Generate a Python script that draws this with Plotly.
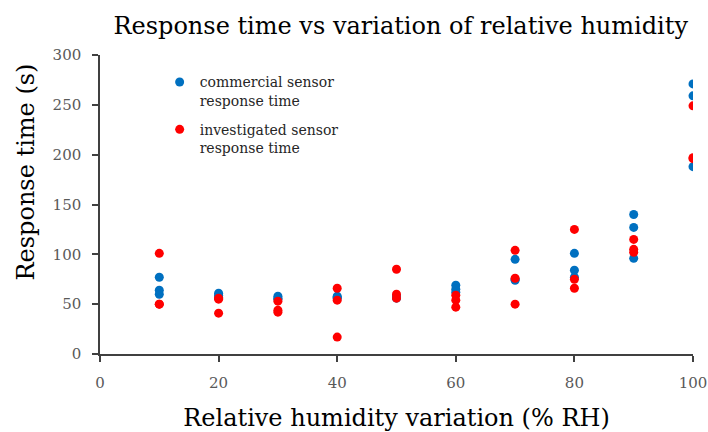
import plotly.graph_objects as go

x_rh = [10, 20, 30, 40, 50, 60, 70, 80, 90, 100]
commercial = [
    [77, 64, 60],
    [61, 59, 57],
    [58, 56, 55],
    [58, 57, 56],
    [58, 57, 56],
    [69, 65, 62],
    [95, 74, 75],
    [101, 84, 77],
    [140, 127, 96],
    [271, 259, 188],
]
investigated = [
    [101, 50, 50],
    [55, 41, 56],
    [53, 44, 42],
    [66, 54, 17],
    [85, 60, 56],
    [59, 54, 47],
    [104, 76, 50],
    [125, 75, 66],
    [115, 105, 102],
    [249, 196, 197],
]
x_ticks = [0, 20, 40, 60, 80, 100]
y_ticks = [0, 50, 100, 150, 200, 250, 300]

def flatten(groups):
    xs, ys = [], []
    for xv, vals in zip(x_rh, groups):
        for v in vals:
            xs.append(xv)
            ys.append(v)
    return xs, ys

FONT = "DejaVu Serif"
cx, cy = flatten(commercial)
ix, iy = flatten(investigated)

fig = go.Figure()
fig.add_trace(go.Scatter(x=cx, y=cy, mode="markers", name="commercial sensor<br>response time",
                         legendgroup="c", marker=dict(color="#0070C0", size=9)))
fig.add_trace(go.Scatter(x=ix, y=iy, mode="markers", name="investigated sensor<br>response time",
                         legendgroup="i", marker=dict(color="#FF0000", size=9)))

axis_common = dict(showline=True, linecolor="#404040", linewidth=1.5, ticks="outside",
                   ticklen=6, tickcolor="#404040", tickwidth=1.5, showgrid=False, zeroline=False,
                   automargin=False,
                   tickfont=dict(family=FONT, size=15, color="#595959"))
fig.update_layout(
    width=708, height=432,
    margin=dict(l=100, r=15, t=55, b=78),
    paper_bgcolor="white", plot_bgcolor="white",
    title=dict(text="Response time vs variation of relative humidity", x=0.566, xanchor="center",
               y=0.94, yanchor="middle", font=dict(family=FONT, size=24, color="black")),
    xaxis=dict(range=[0, 100], tickvals=x_ticks, ticklabelstandoff=8,
               title=dict(text="Relative humidity variation (% RH)",
                          font=dict(family=FONT, size=24, color="black"), standoff=18),
               **axis_common),
    yaxis=dict(range=[0, 300], tickvals=y_ticks, ticklabelstandoff=8, **axis_common),
    annotations=[dict(text="Response time (s)", textangle=-90, xref="paper", yref="paper",
                      x=-0.125, y=0.61, xanchor="center", yanchor="middle", showarrow=False,
                      font=dict(family=FONT, size=24, color="black"))],
    legend=dict(x=0.1006, y=0.962, xanchor="left", yanchor="top", bgcolor="rgba(0,0,0,0)",
                valign="top", font=dict(family=FONT, size=14, color="#262626"),
                itemwidth=30, traceorder="grouped", tracegroupgap=8),
    showlegend=True,
)
fig.write_html("out.html")
